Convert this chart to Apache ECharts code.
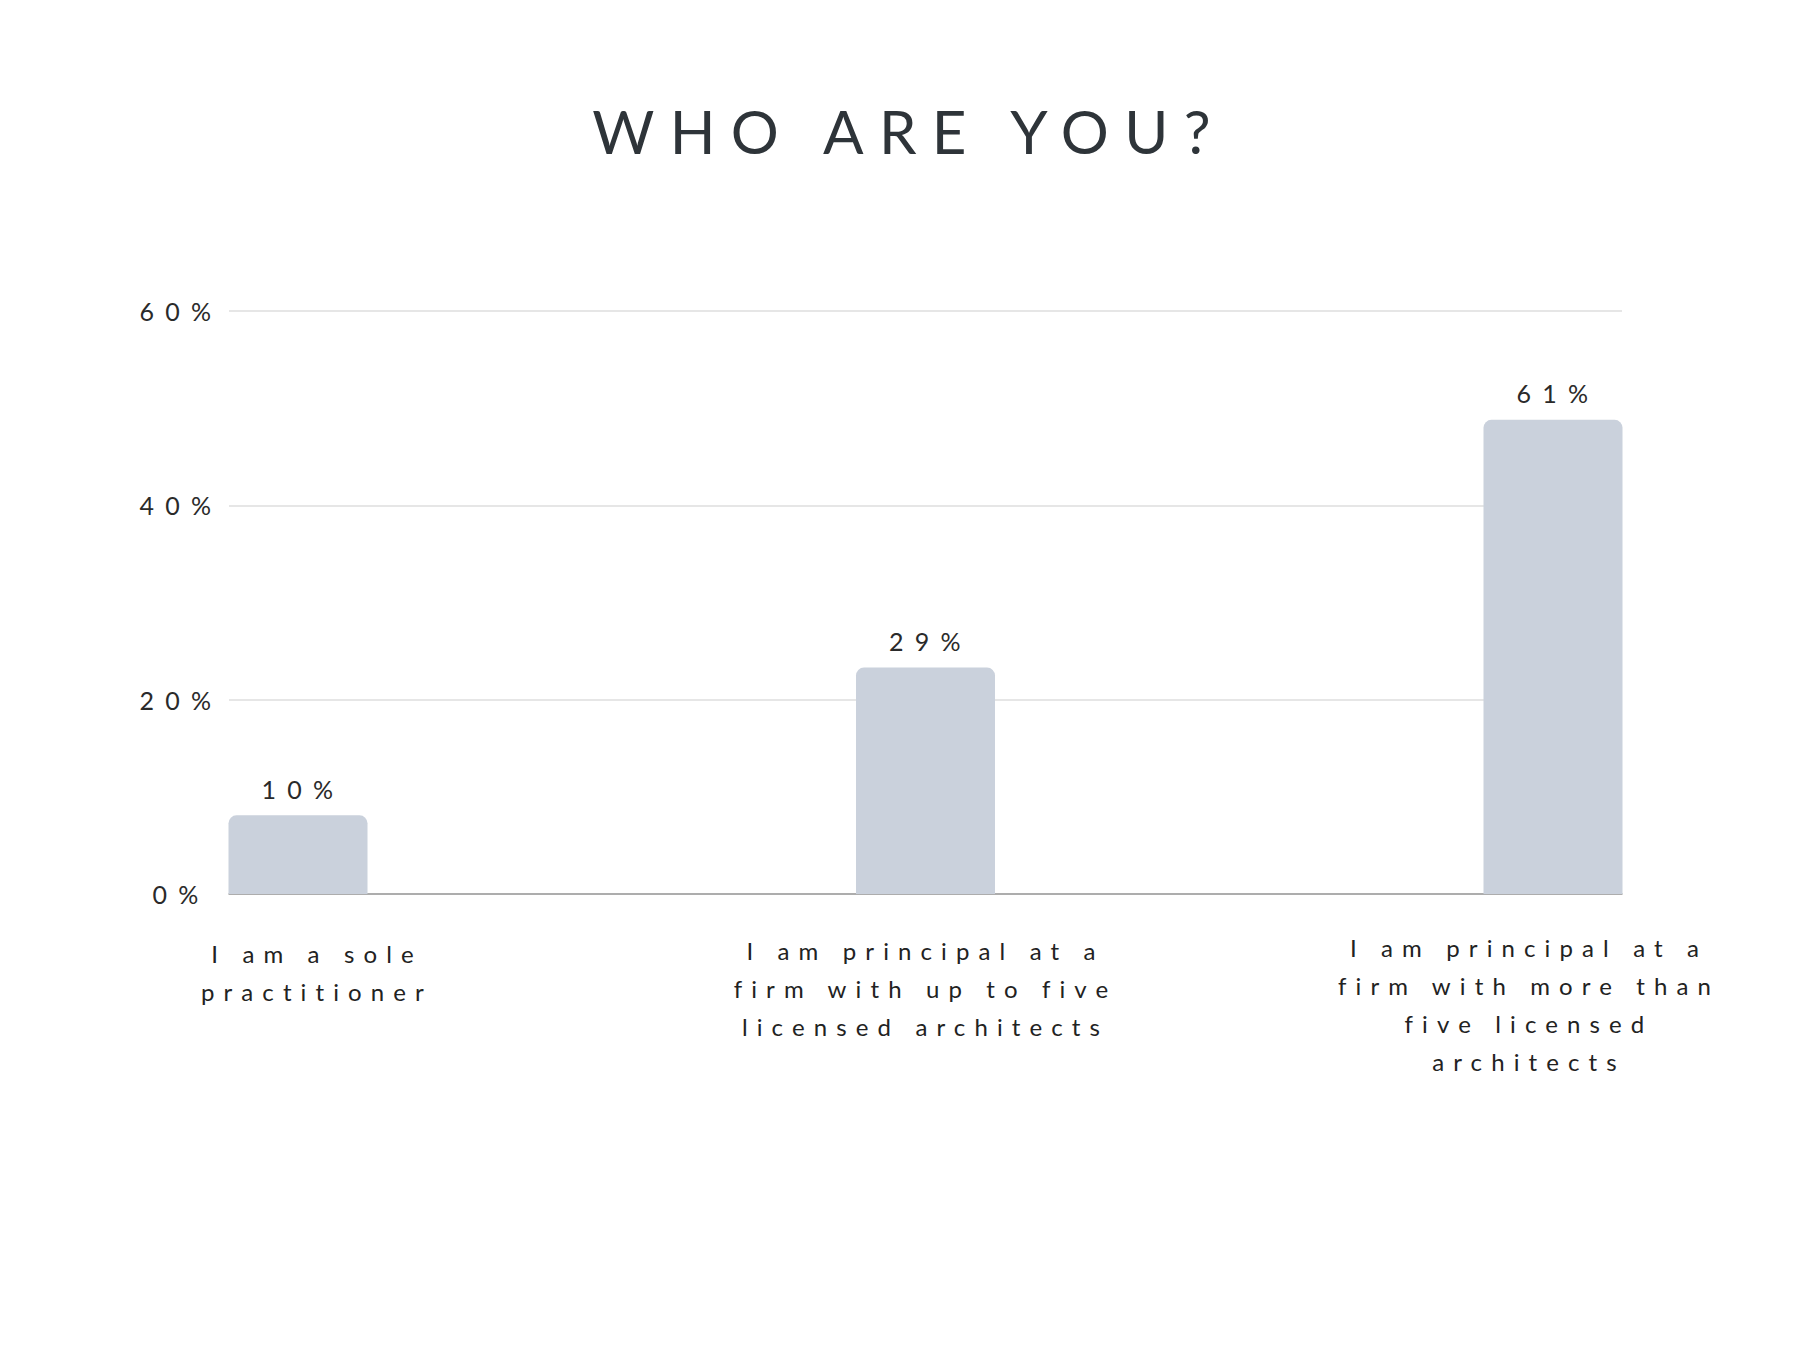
<!DOCTYPE html>
<html>
<head>
<meta charset="utf-8">
<script src="https://cdn.jsdelivr.net/npm/echarts@6/dist/echarts.min.js"></script>
<style>
    html, body { margin: 0; padding: 0; background: #fff; }
    #chart { width: 1800px; height: 1350px; }
    /* tracked lettering like the original */
    #chart text { letter-spacing: 0.38em; }
    #chart text[style*="60px"] { letter-spacing: 0.256em; }
    #chart text[style*="25px"] { letter-spacing: 0.45em; }
</style>
</head>
<body>
<div id="chart"></div>
<script>
var categories = [
    'I am a sole\npractitioner',
    'I am principal at a\nfirm with up to five\nlicensed architects',
    'I am principal at a\nfirm with more than\nfive licensed\narchitects'
];
// bar heights as drawn in the picture (in % of the axis)
var barValues = [8.1, 23.3, 48.8];
// the printed labels above the bars
var barLabels = ['10%', '29%', '61%'];
var yTicks = { min: 0, max: 60, interval: 20 };

(function () {
    var myChart = echarts.init(document.querySelector('#chart'), null, { renderer: 'svg' });
    var font = 'Lato';

    myChart.setOption({
        animation: false,
        title: {
            text: 'WHO ARE YOU?',
            left: 904,
            textAlign: 'center',
            top: 96,
            textStyle: {
                fontFamily: font,
                fontSize: 60,
                fontWeight: 'normal',
                color: '#2e3439'
            }
        },
        grid: [{
            left: 229,
            right: 178,
            top: 311,
            bottom: 456
        }, {
            left: 298,
            right: 247,
            top: 311,
            bottom: 456
        }],
        xAxis: [{
            gridIndex: 0,
            type: 'value',
            min: 0,
            max: 1,
            axisLine: { show: true, lineStyle: { color: '#9a9a9a', width: 1.5 } },
            axisTick: { show: false },
            axisLabel: { show: false },
            splitLine: { show: false }
        }, {
            gridIndex: 1,
            type: 'category',
            boundaryGap: false,
            data: [
                { value: categories[0], textStyle: { padding: [6, 0, 0, 38] } },
                { value: categories[1], textStyle: { padding: [3, 0, 0, 0] } },
                { value: categories[2], textStyle: { padding: [0, 48, 0, 0] } }
            ],
            axisLine: { show: false },
            axisTick: { show: false },
            axisLabel: {
                margin: 34,
                fontFamily: font,
                fontSize: 24,
                lineHeight: 38,
                color: '#222',
                align: 'center',
                verticalAlign: 'top'
            }
        }],
        yAxis: [{
            gridIndex: 0,
            type: 'value',
            min: yTicks.min,
            max: yTicks.max,
            interval: yTicks.interval,
            axisLine: { show: false },
            axisTick: { show: false },
            axisLabel: {
                formatter: '{value}%',
                align: 'center',
                margin: 48,
                fontFamily: font,
                fontSize: 25,
                color: '#2a2a2a'
            },
            splitLine: { lineStyle: { color: '#dedede', width: 1.5 } }
        }, {
            gridIndex: 1,
            type: 'value',
            min: yTicks.min,
            max: yTicks.max,
            interval: yTicks.interval,
            show: false
        }],
        series: [{
            type: 'bar',
            xAxisIndex: 1,
            yAxisIndex: 1,
            data: barValues,
            barWidth: 139,
            clip: false,
            itemStyle: {
                color: '#cad1dc',
                borderRadius: [8, 8, 0, 0]
            },
            label: {
                show: true,
                position: 'top',
                distance: 14,
                padding: [0, 0, 0, 10],
                fontFamily: font,
                fontSize: 25,
                color: '#2a2a2a',
                formatter: function (p) {
                    return barLabels[p.dataIndex];
                }
            }
        }]
    });
})();
</script>
</body>
</html>
